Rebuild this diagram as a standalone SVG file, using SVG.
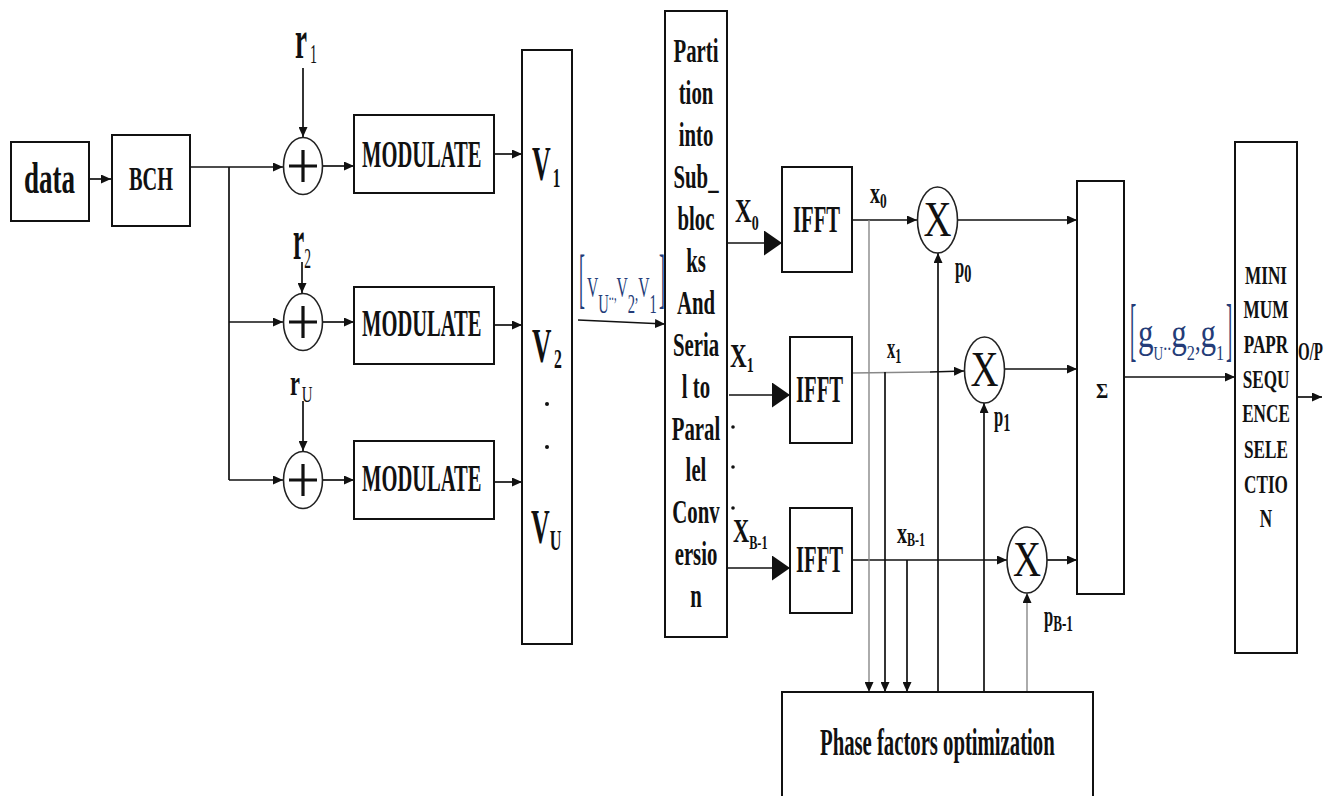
<svg xmlns="http://www.w3.org/2000/svg" width="1343" height="796" viewBox="0 0 1343 796">
<style>
.bx{fill:#fff;stroke:#111;stroke-width:2}
.el{fill:#fff;stroke:#222;stroke-width:1.6}
.ln{fill:none;stroke:#111;stroke-width:1.7}
.gl{fill:none;stroke:#888;stroke-width:1.4}
.pl{fill:none;stroke:#111;stroke-width:3.2}
.b{font-family:"Liberation Serif","Times New Roman",serif;font-weight:bold;fill:#111}
.r{font-family:"Liberation Serif","Times New Roman",serif;font-weight:normal;fill:#111}
.n{font-weight:normal}
.bl{font-family:"Liberation Serif","Times New Roman",serif;font-weight:normal;fill:#243c78}
</style>
<defs>
<marker id="a" markerUnits="userSpaceOnUse" markerWidth="11" markerHeight="9" refX="10" refY="4.5" orient="auto"><path d="M0,0 L10,4.5 L0,9 z" fill="#111"/></marker>
<marker id="big" markerUnits="userSpaceOnUse" markerWidth="19" markerHeight="26" refX="18" refY="12.5" orient="auto"><path d="M0,0 L18,12.5 L0,25 z" fill="#111"/></marker>
</defs>
<rect width="1343" height="796" fill="#fff"/>

<g id="connectors">
<path class="ln" d="M89,179 H111" marker-end="url(#a)"/>
<path class="ln" d="M190,167 H283" marker-end="url(#a)"/>
<path class="ln" d="M229,167 V480"/>
<path class="ln" d="M229,322 H283" marker-end="url(#a)"/>
<path class="ln" d="M229,480 H283" marker-end="url(#a)"/>
<path class="ln" d="M303,68 V137" marker-end="url(#a)"/>
<path class="ln" d="M302,262 V293" marker-end="url(#a)"/>
<path class="ln" d="M303,401 V451" marker-end="url(#a)"/>
<path class="ln" d="M322.5,166 H354" marker-end="url(#a)"/>
<path class="ln" d="M322.5,322 H354" marker-end="url(#a)"/>
<path class="ln" d="M322.5,480 H354" marker-end="url(#a)"/>
<path class="ln" d="M494,154 H522" marker-end="url(#a)"/>
<path class="ln" d="M494,325 H522" marker-end="url(#a)"/>
<path class="ln" d="M494,482 H522" marker-end="url(#a)"/>
<path class="ln" d="M578,320 L665,324" marker-end="url(#a)"/>
<path class="ln" d="M727,243 H782" marker-end="url(#big)"/>
<path class="ln" d="M729,395 H790" marker-end="url(#big)"/>
<path class="ln" d="M727,568 H790" marker-end="url(#big)"/>
<path class="ln" d="M852,220 H917" marker-end="url(#a)"/>
<path class="gl" d="M852,373 L930,372"/>
<path class="ln" d="M930,372 L964,371" marker-end="url(#a)"/>
<path class="ln" d="M852,560 H1007" marker-end="url(#a)"/>
<path class="ln" d="M957.5,220 H1077" marker-end="url(#a)"/>
<path class="ln" d="M1004.5,369 H1077" marker-end="url(#a)"/>
<path class="ln" d="M1047,560 H1077" marker-end="url(#a)"/>
<path class="ln" d="M1124,377 H1235" marker-end="url(#a)"/>
<path class="ln" d="M1297,397 H1322" marker-end="url(#a)"/>
<path class="gl" d="M869,220 V692" marker-end="url(#a)"/>
<path class="ln" d="M885,372 V692" marker-end="url(#a)"/>
<path class="ln" d="M907,560 V692" marker-end="url(#a)"/>
<path class="ln" d="M938,692 V253" marker-end="url(#a)"/>
<path class="ln" d="M984,692 V403" marker-end="url(#a)"/>
<path class="gl" d="M1027,692 V593" marker-end="url(#a)"/>
</g>

<g id="data"><rect class="bx" x="11" y="142" width="78" height="79"/>
<text class="b" font-size="44" transform="translate(24 193) scale(0.614 1)">data</text></g>
<g id="bch"><rect class="bx" x="112" y="135" width="78" height="91"/>
<text class="b" font-size="33" transform="translate(129 190) scale(0.615 1)">BCH</text></g>

<g id="r1"><text class="b" font-size="54" transform="translate(295 58) scale(0.5 1)">r<tspan class="n" font-size="28" dx="6" dy="5">1</tspan></text></g>
<g id="r2"><text class="b" font-size="56" transform="translate(293 259) scale(0.45 1)">r<tspan class="n" font-size="30" dy="9">2</tspan></text></g>
<g id="rU"><text class="b" font-size="36" transform="translate(290 395) scale(0.62 1)">r<tspan class="n" font-size="24" dx="3" dy="7">U</tspan></text></g>

<g id="add1"><ellipse class="el" cx="303" cy="166" rx="19.5" ry="28.5"/><path class="pl" d="M303,150 V182 M289,166 H317"/></g>
<g id="add2"><ellipse class="el" cx="303" cy="322" rx="19.5" ry="28.5"/><path class="pl" d="M303,306 V338 M289,322 H317"/></g>
<g id="add3"><ellipse class="el" cx="303" cy="480" rx="19.5" ry="28.5"/><path class="pl" d="M303,464 V496 M289,480 H317"/></g>

<g id="mod1"><rect class="bx" x="354" y="115" width="140" height="78"/>
<text class="b" font-size="38" transform="translate(362 167) scale(0.541 1)">MODULATE</text></g>
<g id="mod2"><rect class="bx" x="354" y="287" width="140" height="77"/>
<text class="b" font-size="38" transform="translate(362 336) scale(0.541 1)">MODULATE</text></g>
<g id="mod3"><rect class="bx" x="354" y="441" width="140" height="78"/>
<text class="b" font-size="38" transform="translate(362 491) scale(0.541 1)">MODULATE</text></g>

<g id="vbox"><rect class="bx" x="522" y="50" width="50" height="594"/>
<text class="b" font-size="48" transform="translate(532 180) scale(0.54 1)">V<tspan font-size="28" dx="4" dy="7">1</tspan></text>
<text class="b" font-size="48" transform="translate(532 362) scale(0.56 1)">V<tspan font-size="28" dx="4.6" dy="6">2</tspan></text>
<circle cx="547" cy="404" r="2" fill="#111"/><circle cx="547" cy="447" r="2" fill="#111"/>
<text class="b" font-size="48" transform="translate(531 543) scale(0.54 1)">V<tspan font-size="30" dy="7">U</tspan></text></g>

<g id="vlabel">
<text class="bl" font-size="66" transform="translate(579 300) scale(0.27 1)">[</text>
<text class="bl" font-size="30" transform="translate(587 297) scale(0.52 1)">V<tspan font-size="28" dy="16">U</tspan><tspan font-size="20" dy="-13">..,</tspan><tspan dy="-3">V</tspan><tspan font-size="28" dy="16">2</tspan><tspan font-size="24" dy="-13">,</tspan><tspan dy="-3">V</tspan><tspan font-size="28" dy="16">1</tspan></text>
<text class="bl" font-size="66" transform="translate(659 300) scale(0.27 1)">]</text>
</g>

<g id="partition"><rect class="bx" x="665" y="11" width="62" height="626"/>
<g class="b" font-size="33" text-anchor="middle">
<text transform="translate(696 62) scale(0.63 1)">Parti</text>
<text transform="translate(696 104) scale(0.63 1)">tion</text>
<text transform="translate(696 146) scale(0.63 1)">into</text>
<text transform="translate(696 188) scale(0.63 1)">Sub_</text>
<text transform="translate(696 230) scale(0.63 1)">bloc</text>
<text transform="translate(696 272) scale(0.63 1)">ks</text>
<text transform="translate(696 314) scale(0.63 1)">And</text>
<text transform="translate(696 356) scale(0.63 1)">Seria</text>
<text transform="translate(696 398) scale(0.63 1)">l to</text>
<text transform="translate(696 440) scale(0.63 1)">Paral</text>
<text transform="translate(696 481) scale(0.63 1)">lel</text>
<text transform="translate(696 523) scale(0.63 1)">Conv</text>
<text transform="translate(696 565) scale(0.63 1)">ersio</text>
<text transform="translate(696 607) scale(0.63 1)">n</text>
</g></g>

<g id="Xlabels">
<text class="b" font-size="33" transform="translate(735 222) scale(0.7 1)">X<tspan font-size="20" dy="8">0</tspan></text>
<text class="b" font-size="33" transform="translate(730 367) scale(0.7 1)">X<tspan font-size="20" dy="5">1</tspan></text>
<circle cx="733" cy="427" r="1.8" fill="#111"/><circle cx="733" cy="467" r="1.8" fill="#111"/><circle cx="733" cy="508" r="1.8" fill="#111"/>
<text class="b" font-size="33" transform="translate(733 542) scale(0.68 1)">X<tspan font-size="18" dy="7">B-1</tspan></text>
</g>

<g id="ifft1"><rect class="bx" x="782" y="167" width="70" height="105"/>
<text class="b" font-size="38" transform="translate(793 232) scale(0.543 1)">IFFT</text></g>
<g id="ifft2"><rect class="bx" x="790" y="337" width="62" height="106"/>
<text class="b" font-size="38" transform="translate(796 402) scale(0.543 1)">IFFT</text></g>
<g id="ifft3"><rect class="bx" x="790" y="508" width="62" height="105"/>
<text class="b" font-size="38" transform="translate(796 572) scale(0.543 1)">IFFT</text></g>

<g id="xlabels">
<text class="b" font-size="30" transform="translate(870 203) scale(0.67 1)">x<tspan font-size="20" dy="5">0</tspan></text>
<text class="b" font-size="30" transform="translate(887 358) scale(0.55 1)">x<tspan font-size="22" dy="5">1</tspan></text>
<text class="b" font-size="30" transform="translate(897 543) scale(0.67 1)">x<tspan font-size="18" dy="3">B-1</tspan></text>
</g>

<g id="mul0"><ellipse class="el" cx="937.5" cy="220" rx="20" ry="33"/>
<text class="r" font-size="50" transform="translate(923.5 236) scale(0.776 1)">X</text></g>
<g id="mul1"><ellipse class="el" cx="984.5" cy="370" rx="20" ry="33"/>
<text class="r" font-size="50" transform="translate(970.5 386) scale(0.776 1)">X</text></g>
<g id="mul2"><ellipse class="el" cx="1027" cy="560" rx="20" ry="33"/>
<text class="r" font-size="50" transform="translate(1013 576) scale(0.776 1)">X</text></g>

<g id="plabels">
<text class="b" font-size="30" transform="translate(955 277) scale(0.55 1)">p<tspan font-size="26" dy="5">0</tspan></text>
<text class="b" font-size="30" transform="translate(994 426) scale(0.55 1)">p<tspan font-size="26" dy="5">1</tspan></text>
<text class="b" font-size="30" transform="translate(1044 626) scale(0.55 1)">p<tspan font-size="24" dy="5">B-1</tspan></text>
</g>

<g id="sigma"><rect class="bx" x="1077" y="181" width="47" height="413"/>
<text class="b" font-size="22" transform="translate(1096 398) scale(0.85 1)">Σ</text></g>

<g id="glabel">
<text class="bl" font-size="70" transform="translate(1130 353) scale(0.27 1)">[</text>
<text class="bl" font-size="42" transform="translate(1138 347) scale(0.74 1)">g<tspan font-size="18" dy="13">U</tspan><tspan font-size="22" dy="-10">..</tspan><tspan dy="-3">g</tspan><tspan font-size="22" dy="13">2</tspan><tspan font-size="30" dy="-10">,</tspan><tspan dy="-3">g</tspan><tspan font-size="22" dy="13">1</tspan></text>
<text class="bl" font-size="70" transform="translate(1226 353) scale(0.27 1)">]</text>
</g>

<g id="minpapr"><rect class="bx" x="1235" y="142" width="62" height="511"/>
<g class="b" font-size="26" text-anchor="middle">
<text transform="translate(1266 284) scale(0.66 1)">MINI</text>
<text transform="translate(1266 318) scale(0.66 1)">MUM</text>
<text transform="translate(1266 353) scale(0.66 1)">PAPR</text>
<text transform="translate(1266 388) scale(0.66 1)">SEQU</text>
<text transform="translate(1266 422) scale(0.66 1)">ENCE</text>
<text transform="translate(1266 458) scale(0.66 1)">SELE</text>
<text transform="translate(1266 493) scale(0.66 1)">CTIO</text>
<text transform="translate(1266 527) scale(0.66 1)">N</text>
</g></g>

<g id="op"><text class="b" font-size="25" transform="translate(1298 360) scale(0.6 1)">O/P</text></g>

<g id="phase"><rect class="bx" x="782" y="692" width="311" height="110"/>
<text class="b" font-size="37" transform="translate(820 755) scale(0.56 1)">Phase factors optimization</text></g>
</svg>
